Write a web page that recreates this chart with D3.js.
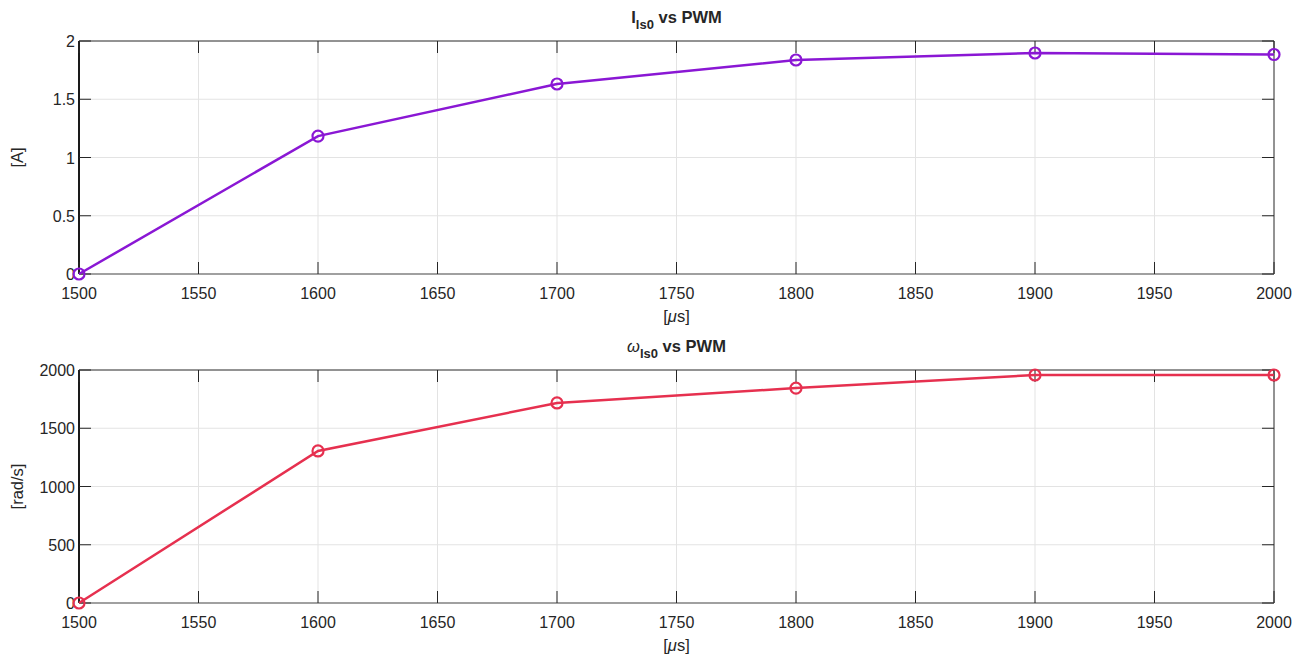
<!DOCTYPE html>
<html>
<head>
<meta charset="utf-8">
<script src="https://cdn.jsdelivr.net/npm/d3@7"></script>
<style>
  body { margin: 0; background: #fff; }
  text { font-family: "Liberation Sans", Arial, sans-serif; fill: #262626; }
</style>
</head>
<body>
<script>
const pwm = [1500, 1600, 1700, 1800, 1900, 2000];
const current = [0, 1.184, 1.631, 1.837, 1.897, 1.884];
const speed = [0, 1305, 1717, 1845, 1957, 1957];
const xTicks = [1500, 1550, 1600, 1650, 1700, 1750, 1800, 1850, 1900, 1950, 2000];
const currentTicks = [0, 0.5, 1, 1.5, 2];
const speedTicks = [0, 500, 1000, 1500, 2000];

const w = 1293, h = 655;
const svg = d3.select("body").append("svg")
  .attr("width", w)
  .attr("height", h);

const left = 79, right = 1274;
const tick = 12;

function panel(top, bottom, values, yTicks, yMax, color, titleMain, ylabel) {
  const x = d3.scaleLinear().domain([1500, 2000]).range([left, right]);
  const y = d3.scaleLinear().domain([0, yMax]).range([bottom, top]);
  const g = svg.append("g");

  // grid
  g.selectAll(".gx").data(xTicks.slice(1, -1)).enter().append("line")
    .attr("x1", d => x(d)).attr("x2", d => x(d))
    .attr("y1", top).attr("y2", bottom)
    .attr("stroke", "#e3e3e3").attr("stroke-width", 1);
  g.selectAll(".gy").data(yTicks.slice(1, -1)).enter().append("line")
    .attr("x1", left).attr("x2", right)
    .attr("y1", d => y(d)).attr("y2", d => y(d))
    .attr("stroke", "#e3e3e3").attr("stroke-width", 1);

  // box
  g.append("line").attr("x1", left).attr("x2", right).attr("y1", top).attr("y2", top)
    .attr("stroke", "#262626").attr("stroke-width", 1);
  g.append("line").attr("x1", right).attr("x2", right).attr("y1", top).attr("y2", bottom)
    .attr("stroke", "#262626").attr("stroke-width", 1);
  g.append("line").attr("x1", left).attr("x2", right).attr("y1", bottom).attr("y2", bottom)
    .attr("stroke", "#808080").attr("stroke-width", 1.5);
  g.append("line").attr("x1", left).attr("x2", left).attr("y1", top).attr("y2", bottom)
    .attr("stroke", "#1a1a1a").attr("stroke-width", 2);

  // ticks
  xTicks.forEach(t => {
    g.append("line").attr("x1", x(t)).attr("x2", x(t)).attr("y1", bottom).attr("y2", bottom - tick)
      .attr("stroke", "#262626");
    g.append("line").attr("x1", x(t)).attr("x2", x(t)).attr("y1", top).attr("y2", top + tick)
      .attr("stroke", "#262626");
    g.append("text").attr("x", x(t)).attr("y", bottom + 25)
      .attr("text-anchor", "middle").attr("font-size", 16).text(t);
  });
  yTicks.forEach(t => {
    g.append("line").attr("x1", left).attr("x2", left + tick).attr("y1", y(t)).attr("y2", y(t))
      .attr("stroke", "#262626");
    g.append("line").attr("x1", right).attr("x2", right - tick).attr("y1", y(t)).attr("y2", y(t))
      .attr("stroke", "#262626");
    g.append("text").attr("x", left - 4).attr("y", y(t) + 6)
      .attr("text-anchor", "end").attr("font-size", 16).text(t);
  });

  // labels
  const xl = g.append("text").attr("x", (left + right) / 2).attr("y", bottom + 48)
    .attr("text-anchor", "middle").attr("font-size", 16.5);
  xl.append("tspan").text("[");
  xl.append("tspan").attr("font-style", "italic").text("\u03bc");
  xl.append("tspan").text("s]");

  g.append("text")
    .attr("transform", `translate(23,${(top + bottom) / 2}) rotate(-90)`)
    .attr("text-anchor", "middle").attr("font-size", 16.5).text(ylabel);

  const tt = g.append("text").attr("x", (left + right) / 2).attr("y", top - 18)
    .attr("text-anchor", "middle").attr("font-size", 16.5).attr("font-weight", "bold")
    .attr("fill", "#000");
  if (titleMain === "I") {
    tt.append("tspan").text("I");
  } else {
    tt.append("tspan").attr("font-style", "italic").attr("font-weight", "normal").text("\u03c9");
  }
  tt.append("tspan").attr("dy", 6).attr("font-size", 13).text("ls0");
  tt.append("tspan").attr("dy", -6).text(" vs PWM");

  // series
  const line = d3.line().x((d, i) => x(pwm[i])).y(d => y(d));
  g.append("path").datum(values).attr("d", line)
    .attr("fill", "none").attr("stroke", color).attr("stroke-width", 2.5);
  g.selectAll(".pt").data(values).enter().append("circle")
    .attr("cx", (d, i) => x(pwm[i])).attr("cy", d => y(d)).attr("r", 5.5)
    .attr("fill", "none").attr("stroke", color).attr("stroke-width", 2.2);
}

panel(41, 274, current, currentTicks, 2, "#8a17d4", "I", "[A]");
panel(370, 603, speed, speedTicks, 2000, "#e6304f", "w", "[rad/s]");
</script>
</body>
</html>
